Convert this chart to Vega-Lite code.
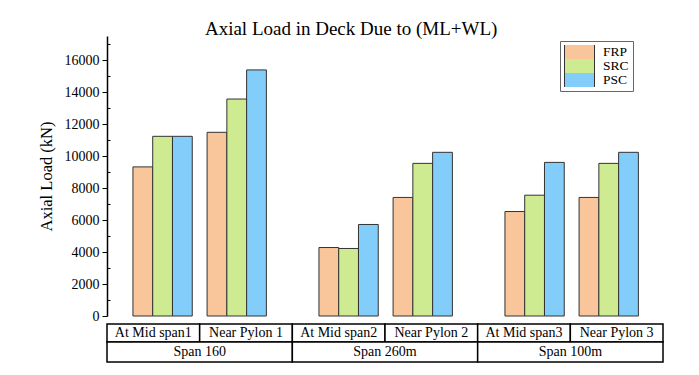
{
  "$schema": "https://vega.github.io/schema/vega-lite/v6.json",
  "padding": {"left": 38, "top": 20, "right": 5, "bottom": 5},
  "config": {
    "font": "Liberation Serif",
    "view": {"stroke": null},
    "concat": {"spacing": 0},
    "facet": {"spacing": 0}
  },
  "title": {
    "text": "Axial Load in Deck Due to (ML+WL)",
    "font": "Liberation Serif",
    "fontSize": 19,
    "fontWeight": "normal",
    "color": "black",
    "anchor": "middle",
    "offset": -3
  },
  "data": {
    "values": [
      {"span": "Span 160", "location": "At Mid span1", "material": "FRP", "load": 9320},
      {"span": "Span 160", "location": "At Mid span1", "material": "SRC", "load": 11230},
      {"span": "Span 160", "location": "At Mid span1", "material": "PSC", "load": 11230},
      {"span": "Span 160", "location": "Near Pylon 1", "material": "FRP", "load": 11480},
      {"span": "Span 160", "location": "Near Pylon 1", "material": "SRC", "load": 13560},
      {"span": "Span 160", "location": "Near Pylon 1", "material": "PSC", "load": 15380},
      {"span": "Span 260m", "location": "At Mid span2", "material": "FRP", "load": 4280},
      {"span": "Span 260m", "location": "At Mid span2", "material": "SRC", "load": 4220},
      {"span": "Span 260m", "location": "At Mid span2", "material": "PSC", "load": 5720},
      {"span": "Span 260m", "location": "Near Pylon 2", "material": "FRP", "load": 7410},
      {"span": "Span 260m", "location": "Near Pylon 2", "material": "SRC", "load": 9540},
      {"span": "Span 260m", "location": "Near Pylon 2", "material": "PSC", "load": 10230},
      {"span": "Span 100m", "location": "At Mid span3", "material": "FRP", "load": 6530},
      {"span": "Span 100m", "location": "At Mid span3", "material": "SRC", "load": 7550},
      {"span": "Span 100m", "location": "At Mid span3", "material": "PSC", "load": 9600},
      {"span": "Span 100m", "location": "Near Pylon 3", "material": "FRP", "load": 7410},
      {"span": "Span 100m", "location": "Near Pylon 3", "material": "SRC", "load": 9540},
      {"span": "Span 100m", "location": "Near Pylon 3", "material": "PSC", "load": 10230}
    ]
  },
  "spacing": 0,
  "vconcat": [
    {
      "facet": {
        "column": {
          "field": "span",
          "type": "nominal",
          "sort": ["Span 160", "Span 260m", "Span 100m"],
          "header": {"title": null, "labels": false}
        }
      },
      "spacing": 0,
      "spec": {
        "width": 185.33,
        "height": 280,
        "mark": {"type": "bar", "stroke": "#333333", "strokeWidth": 1},
        "encoding": {
          "x": {
            "field": "location",
            "type": "nominal",
            "sort": ["At Mid span1", "Near Pylon 1", "At Mid span2", "Near Pylon 2", "At Mid span3", "Near Pylon 3"],
            "scale": {"paddingInner": 0.2, "paddingOuter": 0.35},
            "axis": null
          },
          "xOffset": {
            "field": "material",
            "type": "nominal",
            "sort": ["FRP", "SRC", "PSC"],
            "scale": {"paddingInner": 0, "paddingOuter": 0}
          },
          "y": {
            "field": "load",
            "type": "quantitative",
            "scale": {"domain": [0, 17500], "nice": false, "zero": true},
            "axis": {
              "title": "Axial Load (kN)",
              "titleFont": "Liberation Serif",
              "titleFontSize": 16.5,
              "titleFontWeight": "normal",
              "titleColor": "black",
              "titlePadding": 10,
              "values": [0, 1000, 2000, 3000, 4000, 5000, 6000, 7000, 8000, 9000, 10000, 11000, 12000, 13000, 14000, 15000, 16000, 17000],
              "format": "d",
              "labelExpr": "datum.value % 2000 === 0 ? datum.label : ''",
              "labelFont": "Liberation Serif",
              "labelFontSize": 14,
              "labelColor": "black",
              "labelPadding": 3,
              "tickSize": {"condition": {"test": "datum.value % 2000 === 0", "value": 5}, "value": -3},
              "tickColor": "black",
              "domainColor": "black",
              "domainWidth": 1.5,
              "grid": false
            }
          },
          "fill": {
            "field": "material",
            "type": "nominal",
            "sort": ["FRP", "SRC", "PSC"],
            "scale": {"domain": ["FRP", "SRC", "PSC"], "range": ["#F9C59B", "#CFEB92", "#82CDF9"]},
            "legend": {
              "title": null,
              "orient": "none",
              "legendX": 453,
              "legendY": 5,
              "symbolType": "M-1,-1H3V1H-1Z",
              "symbolSize": 225,
              "symbolStrokeColor": "#333333",
              "symbolStrokeWidth": 1,
              "rowPadding": -1,
              "clipHeight": 14,
              "labelFont": "Liberation Serif",
              "labelFontSize": 13.5,
              "labelColor": "black",
              "labelOffset": 23,
              "strokeColor": "#666666",
              "padding": 4
            }
          }
        }
      },
      "resolve": {"scale": {"x": "independent", "xOffset": "independent"}}
    },
    {
      "spacing": 0,
      "bounds": "flush",
      "vconcat": [
        {
          "width": 556,
          "height": 18,
          "transform": [{"aggregate": [{"op": "count", "as": "n"}], "groupby": ["location"]}],
          "layer": [
            {
              "mark": {"type": "bar", "fill": "white", "stroke": "black", "strokeWidth": 1.5},
              "encoding": {
                "x": {
                  "field": "location",
                  "type": "nominal",
                  "sort": ["At Mid span1", "Near Pylon 1", "At Mid span2", "Near Pylon 2", "At Mid span3", "Near Pylon 3"],
                  "scale": {"paddingInner": 0, "paddingOuter": 0},
                  "axis": null
                }
              }
            },
            {
              "mark": {"type": "text", "fontSize": 14, "color": "black", "font": "Liberation Serif"},
              "encoding": {
                "x": {
                  "field": "location",
                  "type": "nominal",
                  "sort": ["At Mid span1", "Near Pylon 1", "At Mid span2", "Near Pylon 2", "At Mid span3", "Near Pylon 3"],
                  "axis": null
                },
                "text": {"field": "location"}
              }
            }
          ]
        },
        {
          "width": 556,
          "height": 20,
          "transform": [{"aggregate": [{"op": "count", "as": "n"}], "groupby": ["span"]}],
          "layer": [
            {
              "mark": {"type": "bar", "fill": "white", "stroke": "black", "strokeWidth": 1.5},
              "encoding": {
                "x": {
                  "field": "span",
                  "type": "nominal",
                  "sort": ["Span 160", "Span 260m", "Span 100m"],
                  "scale": {"paddingInner": 0, "paddingOuter": 0},
                  "axis": null
                }
              }
            },
            {
              "mark": {"type": "text", "fontSize": 14, "color": "black", "font": "Liberation Serif"},
              "encoding": {
                "x": {
                  "field": "span",
                  "type": "nominal",
                  "sort": ["Span 160", "Span 260m", "Span 100m"],
                  "axis": null
                },
                "text": {"field": "span"}
              }
            }
          ]
        }
      ]
    }
  ]
}
